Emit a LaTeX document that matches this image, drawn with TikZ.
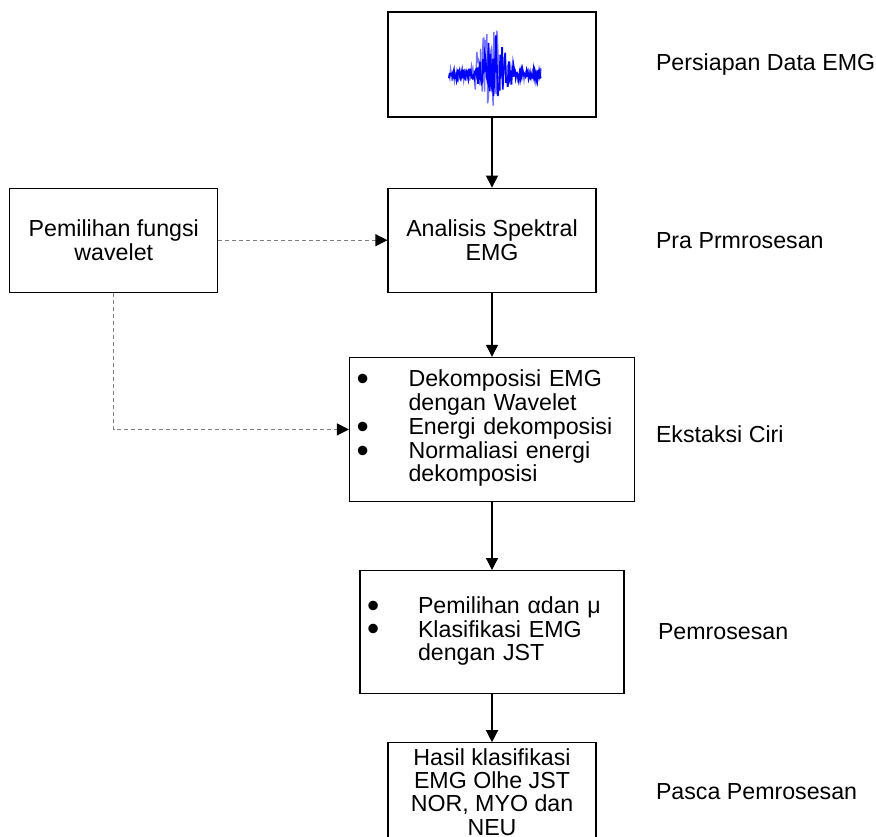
\documentclass[tikz,border=0pt]{standalone}
\usepackage{fontspec}
\setmainfont{Liberation Sans}
\usetikzlibrary{arrows.meta,positioning}

\newcommand{\blt}{\raisebox{-0.17em}{\scalebox{1.5}{\textbullet}}}

\begin{document}
\begin{tikzpicture}[
    x=0.5pt, y=-0.5pt,
    font=\fontsize{11.6}{11.7}\selectfont,
    box/.style={draw, line width=0.6pt, minimum width=104pt, minimum height=52pt, align=center, inner sep=2pt},
    listbox/.style={box, align=left, inner xsep=3.5pt},
    arrow/.style={-{Triangle[length=6pt,width=6pt]}, line width=0.6pt},
    dasharrow/.style={arrow, draw=gray, dash pattern=on 2pt off 1.5pt, -{Triangle[length=6pt,width=6pt,color=black]}},
    lbl/.style={anchor=west, inner sep=0pt},
  ]
  \useasboundingbox (0,0) rectangle (876,836);

  \node[box, minimum height=52.5pt] (sig) at (492,64.5) {};
  \node[box, below=35pt of sig] (ana) {Analisis Spektral\\EMG};
  \node[listbox, text width=135.5pt, minimum height=72pt, below=32pt of ana] (eks)
    {\begin{tabular}{@{}p{26pt}@{}l@{}}
      \blt & Dekomposisi EMG\\
           & dengan Wavelet\\
      \blt & Energi dekomposisi\\
      \blt & Normaliasi energi\\
           & dekomposisi
    \end{tabular}};
  \node[listbox, text width=125pt, minimum height=61.5pt, below=34pt of eks] (pem)
    {\begin{tabular}{@{}p{25.5pt}@{}l@{}}
      \blt & Pemilihan αdan μ\\
      \blt & Klasifikasi EMG\\
           & dengan JST
    \end{tabular}};
  \node[box, minimum height=49pt, below=24pt of pem] (has) {Hasil klasifikasi\\EMG Olhe JST\\NOR, MYO dan\\NEU};
  \node[box, left=84.5pt of ana] (fungsi) {Pemilihan fungsi\\wavelet};

  % EMG signal
  \pgfmathsetseed{3}
  \draw[blue!55, line width=0.7pt] plot[domain=449:541, samples=120]
    (\x, {75 + 7*rand + 40*exp(-((\x-490)/14)^2)*(rand-0.3)});
  \draw[blue, line width=0.9pt] plot[domain=449:541, samples=150]
    (\x, {75 + 5*rand + 32*exp(-((\x-495)/15)^2)*(rand-0.35)});

  \node[lbl] (lsig) at ([xshift=29.5pt]sig.east) {Persiapan Data EMG};
  \node[lbl] (lana) at (lsig.west |- ana.east) {Pra Prmrosesan};
  \node[lbl, yshift=-2.5pt] (leks) at (lsig.west |- eks.east) {Ekstaksi Ciri};
  \node[lbl, xshift=1pt] (lpem) at (lsig.west |- pem.east) {Pemrosesan};
  \node[lbl] (lhas) at (lsig.west |- has.east) {Pasca Pemrosesan};

  \draw[arrow] (sig) -- (ana);
  \draw[arrow] (ana) -- (eks);
  \draw[arrow] (eks) -- (pem);
  \draw[arrow] (pem) -- (has);
  \draw[dasharrow] (fungsi) -- (ana);
  \draw[dasharrow] (fungsi.south) |- (eks.west);
\end{tikzpicture}
\end{document}
